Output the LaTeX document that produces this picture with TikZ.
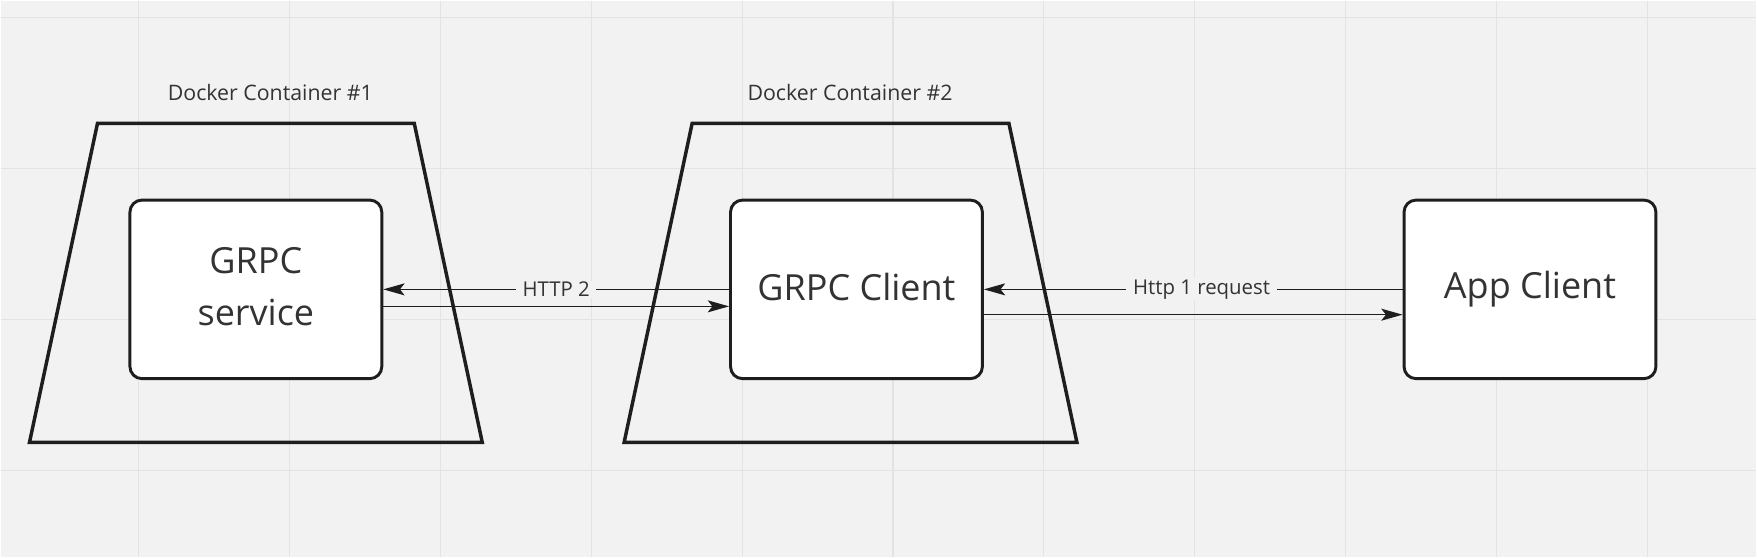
\documentclass[tikz,border=0pt]{standalone}
\usepackage{fontspec}
\setmainfont{Open Sans}
\usetikzlibrary{positioning}
\usetikzlibrary{arrows.meta}
\definecolor{bg}{HTML}{F2F2F2}
\definecolor{gridc}{HTML}{E3E3E3}
\definecolor{ink}{HTML}{1E1E1E}
\definecolor{txt}{HTML}{333333}

\begin{document}
\begin{tikzpicture}[x=0.75pt,y=-0.75pt,
  box/.style={draw=ink,fill=white,line width=2.2pt,rounded corners=9pt,
    minimum width=189pt,minimum height=134pt,text=txt,align=center,
    font=\fontsize{27}{39}\selectfont},
  cont/.style={draw=ink,line width=2.6pt,line join=miter},
  title/.style={text=txt,font=\fontsize{16}{19}\selectfont},
  link/.style={draw=ink,line width=1.1pt,-{Stealth[length=16pt,width=9pt,inset=3.5pt]}},
  lbl/.style={fill=bg,text=txt,inner xsep=5pt,inner ysep=1pt,font=\fontsize{15.3}{18}\selectfont}]
  % background and grid
  \fill[bg] (0,0) rectangle (1757,557);
  \foreach \x in {138,289,...,1757} \draw[gridc,line width=0.8pt] (\x,0) -- (\x,557);
  \foreach \y in {17,168,...,557} \draw[gridc,line width=0.8pt] (0,\y) -- (1757,\y);
  % containers
  \draw[cont] (97,123) -- (414,123) -- (482,442) -- (29,442) -- cycle;
  \draw[cont] (692,123) -- (1009,123) -- (1077,442) -- (624,442) -- cycle;
  \node[title] (dock1) at (270,92) {Docker Container \#1};
  \node[title] (dock2) at (850,92) {Docker Container \#2};
  % boxes
  \node[box,text depth=4.5pt] (svc) at (255.5,289) {GRPC\\service};
  \node[box,text depth=3.5pt,right=259.5pt of svc] (cli) {GRPC Client};
  \node[box,right=314.25pt of cli] (app) {App Client};
  % connections
  \draw[link] (cli.west) -- node[lbl]{HTTP 2} (svc.east);
  \draw[link] ([yshift=-12.75pt]svc.east) -- ([yshift=-12.75pt]cli.west);
  \draw[link] (app.west) -- node[lbl,pos=0.48]{Http 1 request} (cli.east);
  \draw[link] ([yshift=-19pt]cli.east) -- ([yshift=-19pt]app.west);
\end{tikzpicture}
\end{document}
